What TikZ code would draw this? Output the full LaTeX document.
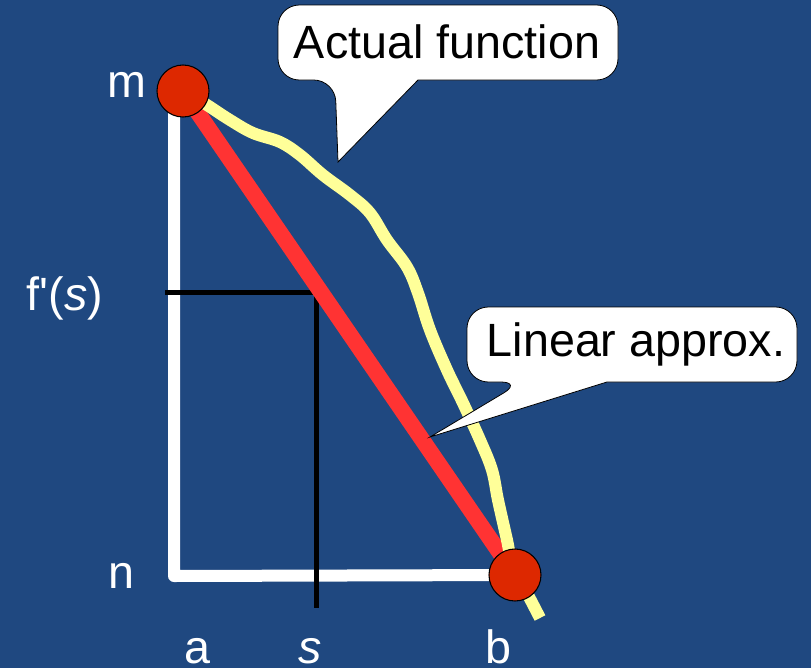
\documentclass[tikz,border=0pt]{standalone}
\usepackage{fontspec}
\setmainfont{Liberation Sans}
\definecolor{slideblue}{RGB}{31,72,128}
\definecolor{dotred}{RGB}{221,40,0}
\definecolor{approxred}{RGB}{255,51,51}
\definecolor{curveyellow}{RGB}{255,255,153}
\begin{document}
\begin{tikzpicture}[x=0.75pt,y=-0.75pt,font=\fontsize{35}{42}\selectfont,
      axis/.style={draw=white,line width=9pt,line join=round},
      endpoint/.style={circle,draw=black,line width=0.8pt,fill=dotred,
        minimum size=39pt,inner sep=0pt},
      bubble/.style={draw=black,line width=0.6pt,fill=white},
      label/.style={text=white,anchor=base}]
      \fill[slideblue] (0,0) rectangle (811,668);
      \useasboundingbox (0,0) rectangle (811,668);
      \coordinate (top) at (183,91);
      \coordinate (bottom) at (515,575);
      \coordinate (corner) at (174,576);
      % axes and f'(s) guide
      \draw[axis] (174,98) -- (corner) -- (bottom);
      \coordinate (fs) at (316,292);
      \draw[line width=3.75pt] (165,292) -- (fs) -- (316,608);
      % linear approx and actual function
      \draw[approxred,line width=12pt] (top) -- (bottom);
      \draw[curveyellow,line width=9pt] plot[smooth,tension=0.6]
        coordinates {(192,96) (207,105) (230,120) (253,133) (280,142) (300,155)
        (323,175) (350,195) (370,213) (387,240) (407,267) (418,293) (430,330)
        (447,370) (463,403) (480,440) (492,470) (498,500) (507,540) (513,567)
        (527,593) (540,618)};
      \node[endpoint] (m) at (top) {};
      \node[endpoint] (b) at (bottom) {};
      % labels
      \node[label] (mlab) at (127,97) {m};
      \node[label] (nlab) at (121,588) {n};
      \node[label,anchor=base west] (fslab) at (22,310) {f\textquotesingle(\textit{s})};
      \node[label] (alab) at (197,663) {a};
      \node[label] (slab) at (310,663) {\textit{s}};
      \node[label] (blab) at (498,663) {b};
      % callouts
      \draw[bubble] (448,5) [rounded corners=16] -- (278,5) -- (278,80) -- (335,80)
        [sharp corners] -- (338,162) -- (418,80) [rounded corners=16] -- (618,80)
        -- (618,5) -- cycle;
      \node (actual) at (447,42) {Actual function};
      \draw[bubble] (632,307) [rounded corners=16] -- (467,307) -- (467,382) -- (522,382)
        [sharp corners] -- (430,437) -- (607,382) [rounded corners=16] -- (797,382)
        -- (797,307) -- cycle;
      \node (linear) at (636,344) {Linear approx.};
\end{tikzpicture}
\end{document}
